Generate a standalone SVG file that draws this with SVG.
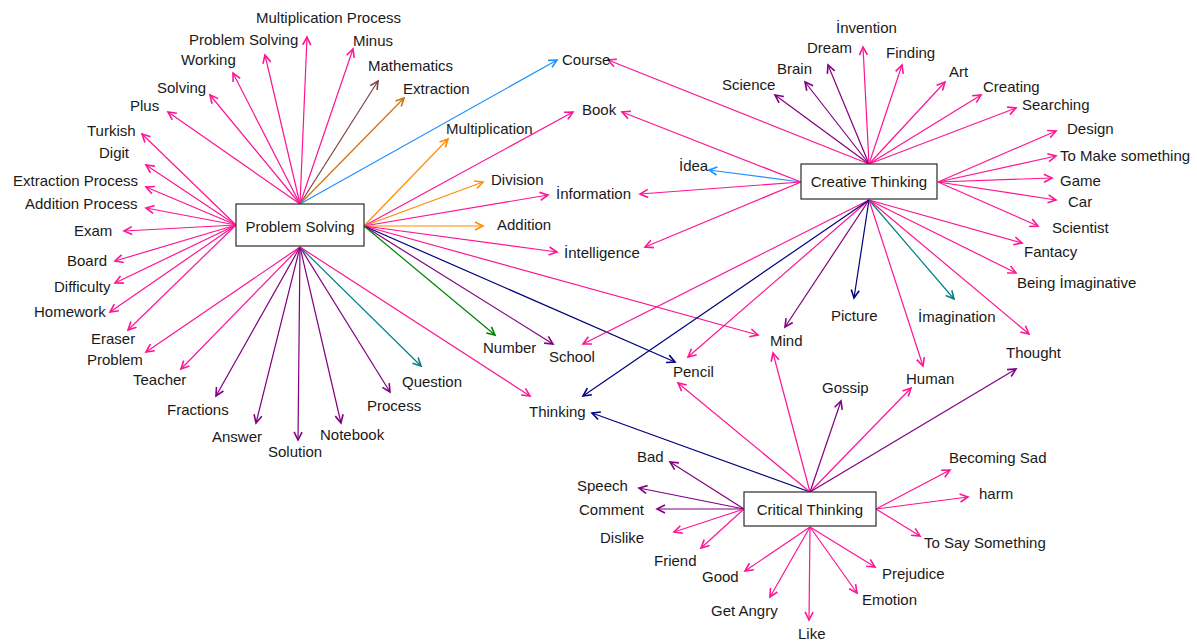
<svg xmlns="http://www.w3.org/2000/svg" width="1197" height="644" viewBox="0 0 1197 644">
<style>
  text { font-family: "Liberation Sans", Arial, sans-serif; font-size: 15px; fill: #1a1a1a; }
  .box { fill: #ffffff; stroke: #2b2b2b; stroke-width: 1.2; }
  .ctr { text-anchor: middle; }
  #edges line { stroke-width: 1.2; fill: none; }
  .pk { stroke: #ff1493; marker-end: url(#a-pk); }
  .pu { stroke: #800080; marker-end: url(#a-pu); }
  .nv { stroke: #000080; marker-end: url(#a-nv); }
  .tl { stroke: #008080; marker-end: url(#a-tl); }
  .gr { stroke: #008000; marker-end: url(#a-gr); }
  .or { stroke: #ff8c00; marker-end: url(#a-or); }
  .do { stroke: #d2700a; marker-end: url(#a-do); }
  .br { stroke: #804040; marker-end: url(#a-br); }
  .bl { stroke: #1e90ff; marker-end: url(#a-bl); }
</style>
<defs>
  <marker id="a-pk" viewBox="-10 -6 12 12" refX="0" refY="0" markerWidth="12" markerHeight="12" markerUnits="userSpaceOnUse" orient="auto"><path d="M-8,-4 L0,0 L-8,4" fill="none" stroke="#ff1493" stroke-width="1.6"/></marker>
  <marker id="a-pu" viewBox="-10 -6 12 12" refX="0" refY="0" markerWidth="12" markerHeight="12" markerUnits="userSpaceOnUse" orient="auto"><path d="M-8,-4 L0,0 L-8,4" fill="none" stroke="#800080" stroke-width="1.6"/></marker>
  <marker id="a-nv" viewBox="-10 -6 12 12" refX="0" refY="0" markerWidth="12" markerHeight="12" markerUnits="userSpaceOnUse" orient="auto"><path d="M-8,-4 L0,0 L-8,4" fill="none" stroke="#000080" stroke-width="1.6"/></marker>
  <marker id="a-tl" viewBox="-10 -6 12 12" refX="0" refY="0" markerWidth="12" markerHeight="12" markerUnits="userSpaceOnUse" orient="auto"><path d="M-8,-4 L0,0 L-8,4" fill="none" stroke="#008080" stroke-width="1.6"/></marker>
  <marker id="a-gr" viewBox="-10 -6 12 12" refX="0" refY="0" markerWidth="12" markerHeight="12" markerUnits="userSpaceOnUse" orient="auto"><path d="M-8,-4 L0,0 L-8,4" fill="none" stroke="#008000" stroke-width="1.6"/></marker>
  <marker id="a-or" viewBox="-10 -6 12 12" refX="0" refY="0" markerWidth="12" markerHeight="12" markerUnits="userSpaceOnUse" orient="auto"><path d="M-8,-4 L0,0 L-8,4" fill="none" stroke="#ff8c00" stroke-width="1.6"/></marker>
  <marker id="a-do" viewBox="-10 -6 12 12" refX="0" refY="0" markerWidth="12" markerHeight="12" markerUnits="userSpaceOnUse" orient="auto"><path d="M-8,-4 L0,0 L-8,4" fill="none" stroke="#d2700a" stroke-width="1.6"/></marker>
  <marker id="a-br" viewBox="-10 -6 12 12" refX="0" refY="0" markerWidth="12" markerHeight="12" markerUnits="userSpaceOnUse" orient="auto"><path d="M-8,-4 L0,0 L-8,4" fill="none" stroke="#804040" stroke-width="1.6"/></marker>
  <marker id="a-bl" viewBox="-10 -6 12 12" refX="0" refY="0" markerWidth="12" markerHeight="12" markerUnits="userSpaceOnUse" orient="auto"><path d="M-8,-4 L0,0 L-8,4" fill="none" stroke="#1e90ff" stroke-width="1.6"/></marker>
</defs>
<rect width="1197" height="644" fill="#ffffff"/>

<g id="edges">
  <!-- Problem Solving: top side -->
  <line class="pk" x1="300" y1="204" x2="307" y2="37"/>
  <line class="pk" x1="300" y1="204" x2="265" y2="55"/>
  <line class="pk" x1="300" y1="204" x2="353" y2="49"/>
  <line class="pk" x1="300" y1="204" x2="233" y2="73"/>
  <line class="br" x1="300" y1="204" x2="378" y2="81"/>
  <line class="pk" x1="300" y1="204" x2="210" y2="95"/>
  <line class="do" x1="300" y1="204" x2="404" y2="98"/>
  <line class="pk" x1="300" y1="204" x2="168" y2="112"/>
  <line class="bl" x1="300" y1="204" x2="557" y2="60"/>
  <!-- Problem Solving: left side -->
  <line class="pk" x1="236" y1="225" x2="142" y2="134"/>
  <line class="pk" x1="236" y1="225" x2="146" y2="165"/>
  <line class="pk" x1="236" y1="225" x2="146" y2="187"/>
  <line class="pk" x1="236" y1="225" x2="146" y2="208"/>
  <line class="pk" x1="236" y1="225" x2="124" y2="231"/>
  <line class="pk" x1="236" y1="225" x2="115" y2="261"/>
  <line class="pk" x1="236" y1="225" x2="115" y2="283"/>
  <line class="pk" x1="236" y1="225" x2="110" y2="312"/>
  <line class="pk" x1="236" y1="225" x2="128" y2="330"/>
  <!-- Problem Solving: bottom side -->
  <line class="pk" x1="300" y1="247" x2="146" y2="352"/>
  <line class="pk" x1="300" y1="247" x2="181" y2="369"/>
  <line class="pu" x1="300" y1="247" x2="216" y2="396"/>
  <line class="pu" x1="300" y1="247" x2="256" y2="423"/>
  <line class="pu" x1="300" y1="247" x2="298" y2="440"/>
  <line class="pu" x1="300" y1="247" x2="341" y2="423"/>
  <line class="pu" x1="300" y1="247" x2="390" y2="392"/>
  <line class="tl" x1="300" y1="247" x2="421" y2="366"/>
  <line class="pk" x1="300" y1="247" x2="530" y2="396"/>
  <!-- Problem Solving: right side -->
  <line class="or" x1="364" y1="226" x2="448" y2="139"/>
  <line class="pk" x1="364" y1="226" x2="573" y2="112"/>
  <line class="or" x1="364" y1="226" x2="483" y2="182"/>
  <line class="pk" x1="364" y1="226" x2="548" y2="195"/>
  <line class="or" x1="364" y1="226" x2="483" y2="226"/>
  <line class="pk" x1="364" y1="226" x2="557" y2="252"/>
  <line class="pk" x1="364" y1="226" x2="758" y2="335"/>
  <line class="nv" x1="364" y1="226" x2="675" y2="362"/>
  <line class="pu" x1="364" y1="226" x2="553" y2="344"/>
  <line class="gr" x1="364" y1="226" x2="495" y2="335"/>

  <!-- Creative Thinking: top side -->
  <line class="pk" x1="869" y1="164" x2="608" y2="60"/>
  <line class="pu" x1="869" y1="164" x2="775" y2="95"/>
  <line class="pu" x1="869" y1="164" x2="805" y2="82"/>
  <line class="pu" x1="869" y1="164" x2="828" y2="65"/>
  <line class="pk" x1="869" y1="164" x2="863" y2="47"/>
  <line class="pk" x1="869" y1="164" x2="902" y2="65"/>
  <line class="pk" x1="869" y1="164" x2="945" y2="82"/>
  <line class="pk" x1="869" y1="164" x2="981" y2="95"/>
  <line class="pk" x1="869" y1="164" x2="1016" y2="108"/>
  <!-- Creative Thinking: left side -->
  <line class="pk" x1="801" y1="182" x2="622" y2="112"/>
  <line class="bl" x1="801" y1="182" x2="709" y2="170"/>
  <line class="pk" x1="801" y1="182" x2="640" y2="194"/>
  <line class="pk" x1="801" y1="182" x2="645" y2="247"/>
  <!-- Creative Thinking: right side -->
  <line class="pk" x1="938" y1="182" x2="1056" y2="131"/>
  <line class="pk" x1="938" y1="182" x2="1056" y2="156"/>
  <line class="pk" x1="938" y1="182" x2="1052" y2="178"/>
  <line class="pk" x1="938" y1="182" x2="1056" y2="200"/>
  <line class="pk" x1="938" y1="182" x2="1038" y2="226"/>
  <!-- Creative Thinking: bottom side -->
  <line class="pk" x1="869" y1="200" x2="1022" y2="243"/>
  <line class="pk" x1="869" y1="200" x2="1016" y2="273"/>
  <line class="pk" x1="869" y1="200" x2="1029" y2="334"/>
  <line class="tl" x1="869" y1="200" x2="954" y2="299"/>
  <line class="nv" x1="869" y1="200" x2="854" y2="298"/>
  <line class="pu" x1="869" y1="200" x2="785" y2="327"/>
  <line class="pk" x1="869" y1="200" x2="923" y2="366"/>
  <line class="pk" x1="869" y1="200" x2="688" y2="357"/>
  <line class="pk" x1="869" y1="200" x2="583" y2="344"/>
  <line class="nv" x1="869" y1="200" x2="583" y2="396"/>

  <!-- Critical Thinking: top side -->
  <line class="nv" x1="810" y1="492" x2="592" y2="413"/>
  <line class="pk" x1="810" y1="492" x2="678" y2="383"/>
  <line class="pk" x1="810" y1="492" x2="773" y2="353"/>
  <line class="pu" x1="810" y1="492" x2="841" y2="401"/>
  <line class="pk" x1="810" y1="492" x2="911" y2="388"/>
  <line class="pu" x1="810" y1="492" x2="1016" y2="369"/>
  <!-- Critical Thinking: left side -->
  <line class="pu" x1="744" y1="509" x2="670" y2="462"/>
  <line class="pu" x1="744" y1="509" x2="639" y2="488"/>
  <line class="pu" x1="744" y1="509" x2="657" y2="509"/>
  <line class="pk" x1="744" y1="509" x2="674" y2="532"/>
  <line class="pk" x1="744" y1="509" x2="701" y2="548"/>
  <!-- Critical Thinking: bottom side -->
  <line class="pk" x1="810" y1="527" x2="745" y2="571"/>
  <line class="pk" x1="810" y1="527" x2="770" y2="597"/>
  <line class="pk" x1="810" y1="527" x2="809" y2="620"/>
  <line class="pk" x1="810" y1="527" x2="857" y2="593"/>
  <line class="pk" x1="810" y1="527" x2="875" y2="567"/>
  <!-- Critical Thinking: right side -->
  <line class="pk" x1="876" y1="509" x2="950" y2="470"/>
  <line class="pk" x1="876" y1="509" x2="968" y2="497"/>
  <line class="pk" x1="876" y1="509" x2="920" y2="536"/>
</g>

<!-- central concepts -->
<g id="n-problem-solving"><rect class="box" x="236" y="204" width="128" height="42"/><text class="ctr" x="300" y="232">Problem Solving</text></g>
<g id="n-creative-thinking"><rect class="box" x="801" y="164" width="136" height="35"/><text class="ctr" x="869" y="187">Creative Thinking</text></g>
<g id="n-critical-thinking"><rect class="box" x="744" y="492" width="132" height="34"/><text class="ctr" x="810" y="515">Critical Thinking</text></g>

<!-- associated words -->
<g id="n-multiplication-process"><text x="256" y="23">Multiplication Process</text></g>
<g id="n-problem-solving-word"><text x="189" y="45">Problem Solving</text></g>
<g id="n-minus"><text x="353" y="46">Minus</text></g>
<g id="n-working"><text x="181" y="65">Working</text></g>
<g id="n-mathematics"><text x="368" y="71">Mathematics</text></g>
<g id="n-solving"><text x="157" y="93">Solving</text></g>
<g id="n-extraction"><text x="403" y="94">Extraction</text></g>
<g id="n-plus"><text x="130" y="111">Plus</text></g>
<g id="n-turkish"><text x="87" y="136">Turkish</text></g>
<g id="n-digit"><text x="99" y="158">Digit</text></g>
<g id="n-extraction-process"><text x="13" y="186">Extraction Process</text></g>
<g id="n-addition-process"><text x="25" y="209">Addition Process</text></g>
<g id="n-exam"><text x="74" y="236">Exam</text></g>
<g id="n-board"><text x="67" y="266">Board</text></g>
<g id="n-difficulty"><text x="54" y="292">Difficulty</text></g>
<g id="n-homework"><text x="34" y="317">Homework</text></g>
<g id="n-eraser"><text x="91" y="344">Eraser</text></g>
<g id="n-problem"><text x="87" y="365">Problem</text></g>
<g id="n-teacher"><text x="133" y="385">Teacher</text></g>
<g id="n-fractions"><text x="167" y="415">Fractions</text></g>
<g id="n-answer"><text x="212" y="442">Answer</text></g>
<g id="n-solution"><text x="268" y="457">Solution</text></g>
<g id="n-notebook"><text x="320" y="440">Notebook</text></g>
<g id="n-process"><text x="367" y="411">Process</text></g>
<g id="n-question"><text x="402" y="387">Question</text></g>
<g id="n-course"><text x="562" y="65">Course</text></g>
<g id="n-book"><text x="582" y="115">Book</text></g>
<g id="n-multiplication"><text x="446" y="134">Multiplication</text></g>
<g id="n-division"><text x="491" y="185">Division</text></g>
<g id="n-information"><text x="556" y="199">İnformation</text></g>
<g id="n-addition"><text x="497" y="230">Addition</text></g>
<g id="n-idea"><text x="679" y="171">İdea</text></g>
<g id="n-intelligence"><text x="564" y="258">İntelligence</text></g>
<g id="n-number"><text x="483" y="353">Number</text></g>
<g id="n-school"><text x="549" y="362">School</text></g>
<g id="n-pencil"><text x="673" y="377">Pencil</text></g>
<g id="n-mind"><text x="770" y="346">Mind</text></g>
<g id="n-thinking"><text x="529" y="417">Thinking</text></g>
<g id="n-science"><text x="722" y="90">Science</text></g>
<g id="n-brain"><text x="777" y="74">Brain</text></g>
<g id="n-dream"><text x="807" y="53">Dream</text></g>
<g id="n-invention"><text x="836" y="33">İnvention</text></g>
<g id="n-finding"><text x="886" y="58">Finding</text></g>
<g id="n-art"><text x="949" y="77">Art</text></g>
<g id="n-creating"><text x="983" y="92">Creating</text></g>
<g id="n-searching"><text x="1022" y="110">Searching</text></g>
<g id="n-design"><text x="1067" y="134">Design</text></g>
<g id="n-to-make-something"><text x="1060" y="161">To Make something</text></g>
<g id="n-game"><text x="1060" y="186">Game</text></g>
<g id="n-car"><text x="1068" y="207">Car</text></g>
<g id="n-scientist"><text x="1052" y="233">Scientist</text></g>
<g id="n-fantacy"><text x="1024" y="257">Fantacy</text></g>
<g id="n-being-imaginative"><text x="1017" y="288">Being İmaginative</text></g>
<g id="n-picture"><text x="831" y="321">Picture</text></g>
<g id="n-imagination"><text x="918" y="322">İmagination</text></g>
<g id="n-thought"><text x="1006" y="358">Thought</text></g>
<g id="n-human"><text x="906" y="384">Human</text></g>
<g id="n-gossip"><text x="822" y="393">Gossip</text></g>
<g id="n-bad"><text x="637" y="462">Bad</text></g>
<g id="n-speech"><text x="577" y="491">Speech</text></g>
<g id="n-comment"><text x="579" y="515">Comment</text></g>
<g id="n-dislike"><text x="600" y="543">Dislike</text></g>
<g id="n-friend"><text x="654" y="566">Friend</text></g>
<g id="n-good"><text x="702" y="582">Good</text></g>
<g id="n-get-angry"><text x="711" y="616">Get Angry</text></g>
<g id="n-like"><text x="798" y="639">Like</text></g>
<g id="n-emotion"><text x="862" y="605">Emotion</text></g>
<g id="n-prejudice"><text x="882" y="579">Prejudice</text></g>
<g id="n-becoming-sad"><text x="949" y="463">Becoming Sad</text></g>
<g id="n-harm"><text x="979" y="499">harm</text></g>
<g id="n-to-say-something"><text x="924" y="548">To Say Something</text></g>
</svg>
